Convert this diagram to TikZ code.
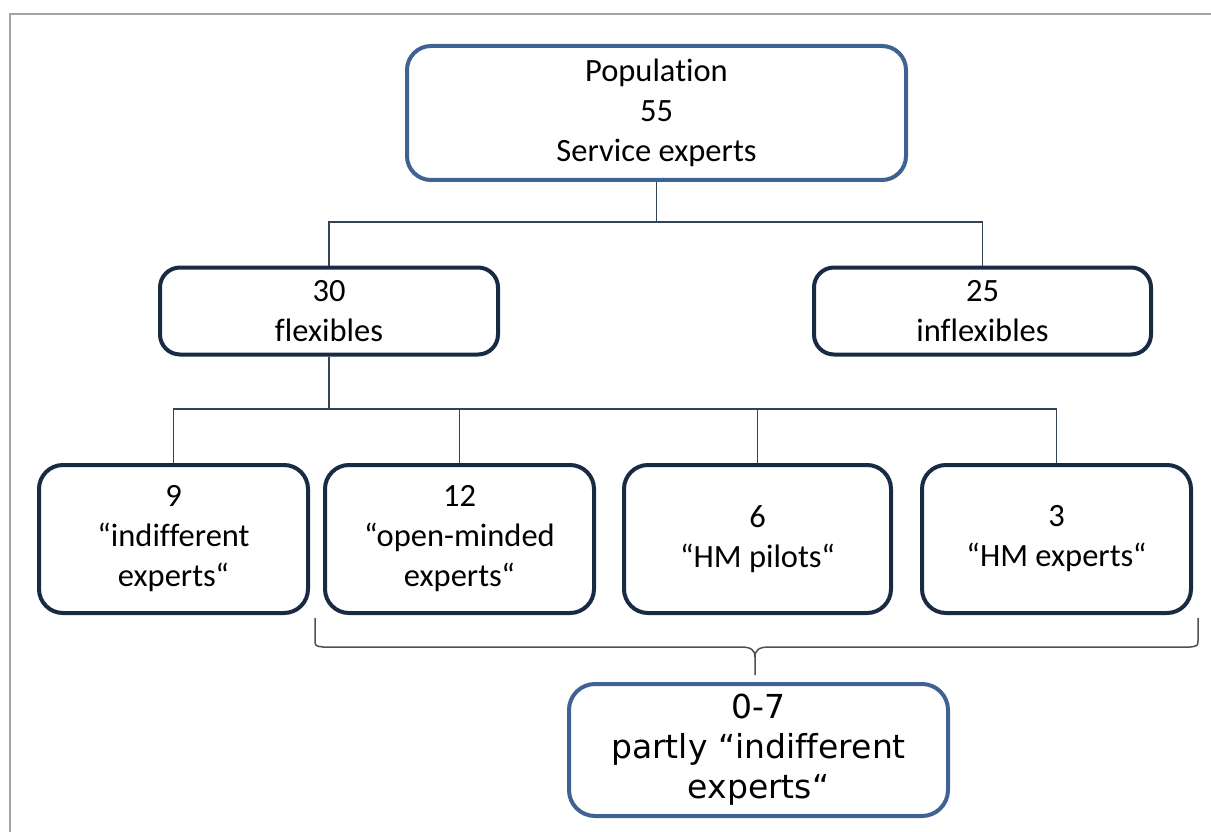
\documentclass[tikz,border=0pt]{standalone}
\usepackage{fontspec}
\setmainfont{Carlito}[Ligatures=NoCommon]
\newfontfamily\notefont{DejaVu Sans}[Ligatures=NoCommon]
\definecolor{blueedge}{RGB}{62,98,146}
\definecolor{navyedge}{RGB}{24,42,68}
\definecolor{linkcol}{RGB}{52,66,86}
\definecolor{framecol}{RGB}{165,165,165}
\definecolor{bracecol}{RGB}{80,80,80}
\begin{document}
\begin{tikzpicture}[x=1pt,y=-1pt,
  box/.style={draw, rounded corners=#1, line width=4pt, fill=white,
    align=center, inner sep=0pt, text=black,
    font=\fontsize{32.5}{40}\selectfont},
  box/.default=22pt,
  bluebox/.style={box=#1, draw=blueedge},
  bluebox/.default=24pt,
  navybox/.style={box=#1, draw=navyedge},
  navybox/.default=20pt,
  link/.style={draw=linkcol, line width=1.6pt},
  bracket/.style={draw=bracecol, line width=1.5pt},
  frameline/.style={draw=framecol, line width=2.2pt}]

\useasboundingbox (0,0) rectangle (1211,832);
\fill[white] (0,0) rectangle (1211,832);

% outer frame (only top and left edges show)
\draw[frameline] (1211,14) -- (10,14) -- (10,832);

% hierarchy boxes
\node[bluebox, minimum width=499pt, minimum height=134pt] (pop) at (656.5,113)
  {Population\\55\\Service experts};
\node[navybox, minimum width=338pt, minimum height=87pt] (flex) at (329,311)
  {30\\flexibles};
\node[navybox, minimum width=337pt, minimum height=87pt] (inflex) at (982.5,311)
  {25\\inflexibles};

\node[navybox=24pt, minimum width=269pt, minimum height=148pt] (ind) at (173.5,539)
  {9\\“indifferent\\experts“};
\node[navybox=24pt, minimum width=269pt, minimum height=148pt] (open) at (459.5,539)
  {12\\“open-minded\\experts“};
\node[navybox=24pt, minimum width=267pt, minimum height=148pt] (pil) at (757.5,539)
  {6\\“HM pilots“};
\node[navybox=24pt, minimum width=269pt, minimum height=148pt] (hme) at (1056.5,539)
  {3\\“HM experts“};

\node[bluebox=26pt, minimum width=379pt, minimum height=132pt,
  font=\notefont\fontsize{33}{40}\selectfont] (part) at (758.5,750)
  {0-7\\partly “indifferent\\experts“};

% tree connectors
\draw[link] (pop.south) -- (pop.south |- 0,222) -| (flex.north);
\draw[link] (pop.south) -- (pop.south |- 0,222) -| (inflex.north);
\foreach \child in {ind,open,pil,hme}
  \draw[link] (flex.south) -- (flex.south |- 0,409) -| (\child.north);

% curly bracket grouping the three right-hand groups
\coordinate (bl) at (315,618);
\coordinate (br) at (1198,618);
\coordinate (bt) at (755,675);
\draw[bracket] (bl) -- (315,639) .. controls (315,646) .. (323,647) -- (741,647)
  .. controls (751,647) and (755,650) .. (755,657) -- (bt);
\draw[bracket] (br) -- (1198,639) .. controls (1198,646) .. (1190,647) -- (769,647)
  .. controls (759,647) and (755,650) .. (755,657);
\end{tikzpicture}
\end{document}
